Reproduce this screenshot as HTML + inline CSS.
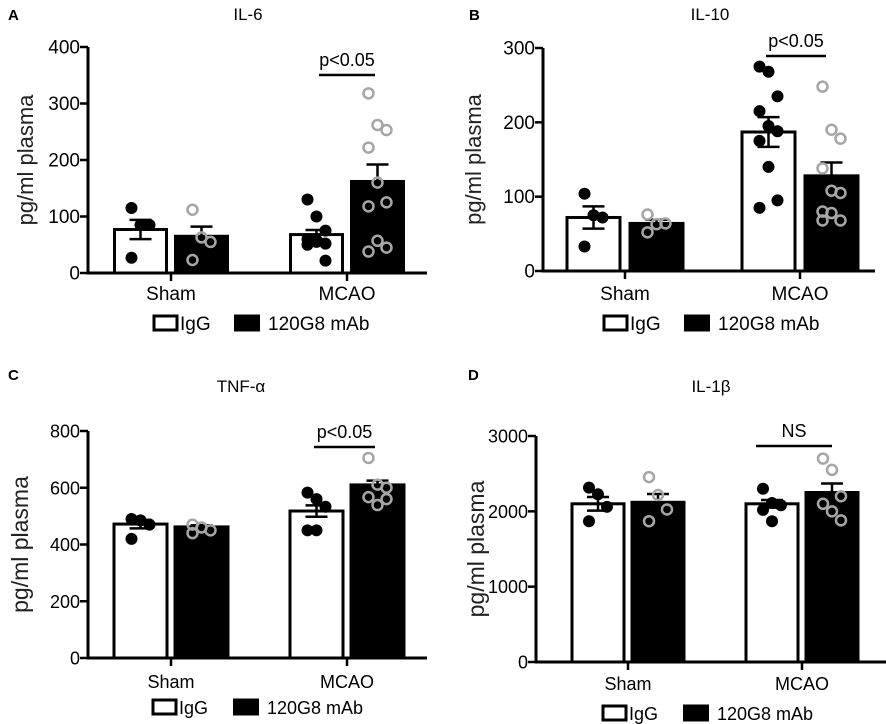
<!DOCTYPE html>
<html><head><meta charset="utf-8"><style>
html,body{margin:0;padding:0;background:#fff;}
svg{display:block;font-family:"Liberation Sans",Arial,sans-serif;}
</style></head><body>
<svg id="fig" width="886" height="724" viewBox="0 0 886 724"></svg>
<script>
const groups = ["Sham","MCAO"];
const seriesNames = ["IgG","120G8 mAb"];
// Panel A IL-6
const aTicks = [0,100,200,300,400];
const aMeans = [[77,65],[68,162]];
const aSem = [[17,17],[8,30]];
const aPoints = [[[115,85,85,27],[112,63,55,23]],[[130,100,75,60,55,52,50,58,22],[318,262,253,222,160,125,118,57,45,38]]];
// Panel B IL-10
const bTicks = [0,100,200,300];
const bMeans = [[72,64],[187,128]];
const bSem = [[15,5],[20,18]];
const bPoints = [[[104,75,72,33],[76,63,64,52]],[[275,268,235,215,195,188,175,140,95,85],[248,190,178,138,108,105,80,78,68,68]]];
// Panel C TNF-a
const cTicks = [0,200,400,600,800];
const cMeans = [[472,462],[518,610]];
const cSem = [[15,6],[20,15]];
const cPoints = [[[490,485,470,420],[470,460,450,440]],[[583,560,533,450,450],[705,611,600,567,539,560]]];
// Panel D IL-1b
const dTicks = [0,1000,2000,3000];
const dMeans = [[2100,2120],[2100,2250]];
const dSem = [[90,110],[50,120]];
const dPoints = [[[2315,2226,2060,1869],[2454,2217,2025,1869]],[[2300,2110,2080,2020,1869],[2700,2550,2200,2100,2000,1880]]];

const NS = "http://www.w3.org/2000/svg";
const svg = document.getElementById("fig");
function mk(tag, attrs, parent, text){
  const e = document.createElementNS(NS, tag);
  for (const k in attrs) e.setAttribute(k, attrs[k]);
  if (text !== undefined) e.textContent = text;
  (parent||svg).appendChild(e);
  return e;
}
function panel(cfg){
  const g = mk("g", {});
  
  
  const max = cfg.ticks[cfg.ticks.length-1];
  const y = v => cfg.y0 - (v/max)*(cfg.y0-cfg.yTop);
  const lt = mk("text", {x:cfg.letterX, y:cfg.letterY, "font-size":15, "font-weight":"bold"}, g, cfg.letter);
  
  
  const tt = mk("text", {x:cfg.titleX, y:cfg.titleY, "font-size":17, "text-anchor":"middle"}, g, cfg.title);
  
  
  const yl = mk("text", {x:0, y:0, "font-size":cfg.ylFs, "text-anchor":"middle", fill:"#222", transform:`translate(${cfg.ylabX},${(cfg.y0+cfg.yTop)/2}) rotate(-90)`}, g, "pg/ml plasma");
  
  
  const ya = mk("line", {x1:cfg.ax, x2:cfg.ax, y1:cfg.yTop, y2:cfg.y0+1.5, stroke:"#000", "stroke-width":3}, g);
  
  
  cfg.ticks.forEach(t=>{
    mk("line", {x1:cfg.ax-8, x2:cfg.ax, y1:y(t), y2:y(t), stroke:"#000", "stroke-width":2.5}, g);
    const tl = mk("text", {x:cfg.ax-8, y:y(t)+6.5, "font-size":cfg.tickFs, "text-anchor":"end"}, g, String(t));
    
    
  });
  const xa = mk("line", {x1:cfg.ax-1.5, x2:cfg.axEnd, y1:cfg.y0, y2:cfg.y0, stroke:"#000", "stroke-width":3}, g);
  
  
  groups.forEach((gn, gi)=>{
    const cx = cfg.groupX[gi];
    mk("line", {x1:cx, x2:cx, y1:cfg.y0, y2:cfg.y0+8, stroke:"#000", "stroke-width":2.5}, g);
    const xl = mk("text", {x:cx, y:cfg.catY, "font-size":cfg.catFs, "text-anchor":"middle"}, g, gn);
    
    
    [0,1].forEach(si=>{
      const x0 = cx + (si===0 ? -cfg.gap/2 - cfg.bw : cfg.gap/2);
      const m = cfg.means[gi][si];
      const r = mk("rect", {x:x0, y:y(m), width:cfg.bw, height:cfg.y0-y(m), fill: si?"#000":"#fff", stroke:"#000", "stroke-width":3}, g);
      
      
      const bc = x0 + cfg.bw/2;
      const s = cfg.sem[gi][si];
      const eb = mk("g", {stroke:"#000", "stroke-width":2.5}, g);
      
      
      mk("line", {x1:bc, x2:bc, y1:y(m+s), y2:y(m-s)}, eb);
      mk("line", {x1:bc-11, x2:bc+11, y1:y(m+s), y2:y(m+s)}, eb);
      if (!si) mk("line", {x1:bc-11, x2:bc+11, y1:y(m-s), y2:y(m-s)}, eb);
      const pts = cfg.points[gi][si];
      pts.forEach((v, i)=>{
        const off = ((i%3)-1)*9;
        const c = si
          ? mk("circle", {cx:bc+off, cy:y(v), r:5, fill:"none", stroke:"#a6a6a6", "stroke-width":2.5}, g)
          : mk("circle", {cx:bc+off, cy:y(v), r:6, fill:"#000"}, g);
        
        
      });
    });
  });
  const sl = mk("line", {x1:cfg.sig[0], x2:cfg.sig[1], y1:cfg.sigY, y2:cfg.sigY, stroke:"#000", "stroke-width":2.5}, g);
  
  
  const st = mk("text", {x:(cfg.sig[0]+cfg.sig[1])/2, y:cfg.sigY-9, "font-size":cfg.sigFs, "text-anchor":"middle"}, g, cfg.sigText);
  
  
  const lg = mk("g", {}, g);
  
  
  const b1 = mk("rect", {x:cfg.legX, y:cfg.legY-7, width:23, height:14, fill:"#fff", stroke:"#000", "stroke-width":3}, lg);
  
  
  mk("text", {x:cfg.legX+26, y:cfg.legY+7, "font-size":cfg.catFs}, lg, seriesNames[0]);
  const b2 = mk("rect", {x:cfg.legX+80, y:cfg.legY-8.5, width:26, height:17, fill:"#000"}, lg);
  
  
  mk("text", {x:cfg.legX+114, y:cfg.legY+7, "font-size":cfg.catFs}, lg, seriesNames[1]);
}
panel({letter:"A", letterX:8, letterY:20, title:"IL-6", titleX:248, titleY:20, ylabX:33, ylFs:22,
  ax:88, axEnd:427, yTop:47, y0:273, ticks:aTicks, tickFs:19, groupX:[171,347], gap:9, bw:52,
  means:aMeans, sem:aSem, points:aPoints, catY:300, catFs:19, sig:[319,375], sigY:75, sigFs:18, sigText:"p<0.05", legX:154, legY:323});
panel({letter:"B", letterX:469, letterY:20, title:"IL-10", titleX:710, titleY:20, ylabX:481, ylFs:22,
  ax:543, axEnd:875, yTop:48, y0:271, ticks:bTicks, tickFs:19, groupX:[625,800], gap:10, bw:53,
  means:bMeans, sem:bSem, points:bPoints, catY:300, catFs:19, sig:[766,826], sigY:56, sigFs:18, sigText:"p<0.05", legX:604, legY:323});
panel({letter:"C", letterX:8, letterY:380, title:"TNF-α", titleX:241, titleY:392, ylabX:28, ylFs:23,
  ax:88, axEnd:427, yTop:431, y0:658, ticks:cTicks, tickFs:18, groupX:[171,347], gap:8, bw:53,
  means:cMeans, sem:cSem, points:cPoints, catY:688, catFs:18, sig:[314,375], sigY:447, sigFs:18, sigText:"p<0.05", legX:153, legY:707});
panel({letter:"D", letterX:468, letterY:380, title:"IL-1β", titleX:711, titleY:392, ylabX:484, ylFs:23,
  ax:536, axEnd:886, yTop:436, y0:662, ticks:dTicks, tickFs:18, groupX:[628,802], gap:8, bw:52,
  means:dMeans, sem:dSem, points:dPoints, catY:690, catFs:18, sig:[756,832], sigY:446, sigFs:18, sigText:"NS", legX:603, legY:713});
</script>
</body></html>
